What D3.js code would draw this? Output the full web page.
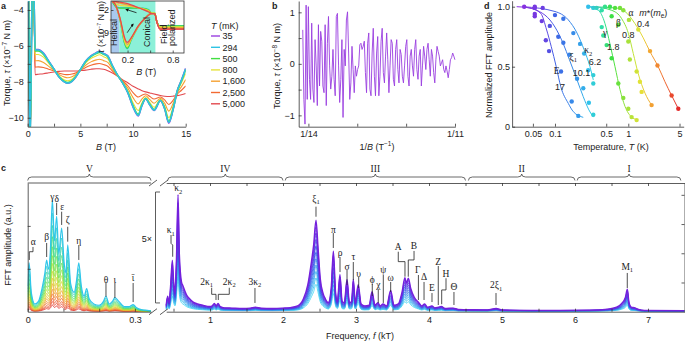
<!DOCTYPE html>
<html>
<head>
<meta charset="utf-8">
<script src="https://cdn.jsdelivr.net/npm/d3@7"></script>
<style>
  body { margin: 0; background: #fff; }
  svg text { font-family: "Liberation Sans", Arial, sans-serif; font-size: 9px; fill: #222; }
  .greek { font-family: "Liberation Serif", "DejaVu Serif", serif; font-size: 9.5px; }
</style>
</head>
<body>
<svg id="fig" width="685" height="341"></svg>
<script>
// ---------- panel a: torque vs field ----------
const tempsMK = [35, 294, 500, 800, 1600, 2500, 5000];
const tempColors = ["#9a3fe0", "#2fc3e3", "#42de42", "#e6e23c", "#f5a133", "#f26a33", "#e2494f"];
const lowFieldB = [0, 0.06, 0.22, 0.42, 0.56];
const lowFieldTorque = [-1.5, -2.2, -11.5, -3.4, -2.3];
const torqueB = [0.7,1,1.5,2,2.5,3,3.5,3.8,4.2,4.6,5,5.5,6,6.5,6.8,7.2,7.6,8,8.5,9,9.5,10,10.5,10.8,11.2,11.6,12,12.6,13,13.4,13.8,14.2,14.6,15];
const torque35 = [-6.2,-6.2,-6.4,-6.85,-7.3,-7.75,-8.02,-8.08,-7.98,-7.7,-7.33,-6.85,-6.55,-6.38,-6.3,-6.42,-6.55,-7.05,-7.6,-8.05,-8.6,-9.4,-9.9,-9.4,-8.95,-9.3,-9.6,-9.05,-9.5,-10.3,-9.55,-8.5,-7.9,-7.25];
const torque294 = [-6.23,-6.23,-6.42,-6.86,-7.3,-7.74,-8.01,-8.07,-7.97,-7.69,-7.33,-6.86,-6.57,-6.4,-6.32,-6.44,-6.57,-7.06,-7.6,-8.05,-8.59,-9.38,-9.87,-9.38,-8.94,-9.29,-9.58,-9.04,-9.49,-10.27,-9.54,-8.51,-7.92,-7.28];
const torque500 = [-6.28,-6.28,-6.47,-6.89,-7.31,-7.73,-7.98,-8.04,-7.95,-7.68,-7.33,-6.88,-6.6,-6.43,-6.36,-6.47,-6.6,-7.08,-7.6,-8.04,-8.57,-9.33,-9.81,-9.35,-8.93,-9.26,-9.55,-9.03,-9.46,-10.21,-9.51,-8.52,-7.95,-7.33];
const torque800 = [-6.48,-6.48,-6.63,-6.98,-7.33,-7.68,-7.9,-7.94,-7.86,-7.64,-7.34,-6.95,-6.7,-6.56,-6.49,-6.6,-6.72,-7.14,-7.62,-8.02,-8.49,-9.17,-9.6,-9.22,-8.87,-9.16,-9.42,-8.99,-9.36,-10.0,-9.4,-8.55,-8.06,-7.53];
const torque1600 = [-6.83,-6.82,-6.92,-7.14,-7.37,-7.6,-7.74,-7.77,-7.72,-7.57,-7.35,-7.08,-6.89,-6.78,-6.74,-6.82,-6.92,-7.25,-7.64,-7.97,-8.35,-8.88,-9.23,-8.99,-8.78,-8.99,-9.19,-8.92,-9.19,-9.63,-9.21,-8.62,-8.27,-7.88];
const torque2500 = [-7.18,-7.17,-7.2,-7.3,-7.4,-7.52,-7.59,-7.6,-7.57,-7.49,-7.37,-7.2,-7.08,-7.0,-6.98,-7.04,-7.13,-7.37,-7.66,-7.93,-8.22,-8.6,-8.85,-8.76,-8.68,-8.82,-8.96,-8.85,-9.01,-9.26,-9.03,-8.69,-8.47,-8.23];
const torque5000 = [-7.6,-7.58,-7.55,-7.5,-7.45,-7.42,-7.4,-7.4,-7.4,-7.4,-7.38,-7.35,-7.3,-7.27,-7.27,-7.3,-7.38,-7.5,-7.68,-7.88,-8.05,-8.25,-8.4,-8.48,-8.56,-8.62,-8.68,-8.76,-8.8,-8.82,-8.8,-8.77,-8.72,-8.65];
const torqueCurves = [torque35, torque294, torque500, torque800, torque1600, torque2500, torque5000];

// inset of panel a (low field)
const insetLowB = [0,0.03,0.1,0.16,0.195,0.25,0.34,0.43,0.52,0.56,0.59,0.63,0.95];
const insetUpB = [0,0.05,0.1,0.2,0.3,0.4,0.48,0.52,0.56,0.59,0.63,0.95];
const insetTempIdx = [1, 2, 3, 4, 6];
const insetLow = [
  [0.5,0,-5.1,-12.3,-14.0,-11.2,-7.2,-4.6,-3.0,-3.0,-5.6,-6.9,-6.9],
  [0.5,0,-5.0,-12.1,-13.8,-11.1,-7.2,-4.6,-3.0,-3.0,-5.6,-7.0,-7.0],
  [0.5,0,-4.9,-11.6,-13.3,-10.9,-7.1,-4.6,-3.0,-3.0,-5.7,-7.3,-7.3],
  [0.5,0,-4.7,-11.0,-12.6,-10.7,-7.1,-4.6,-3.1,-3.1,-5.7,-7.6,-7.6],
  [0.5,0,-4.5,-10.5,-12.0,-10.5,-7.0,-4.6,-3.1,-3.1,-5.8,-7.9,-7.9]
];
const insetUp = [
  [0.5,-1.0,-1.3,-1.3,-1.3,-1.4,-1.9,-3.0,-3.0,-5.6,-6.9,-6.9],
  [0.5,-1.1,-1.4,-1.4,-1.4,-1.5,-2.0,-3.0,-3.0,-5.6,-7.0,-7.0],
  [0.6,-0.2,-0.6,-0.8,-1.1,-1.6,-2.2,-3.0,-3.0,-5.7,-7.3,-7.3],
  [0.7,0.4,0.1,-0.4,-1.0,-1.7,-2.4,-3.1,-3.1,-5.7,-7.6,-7.6],
  [0.7,0.6,0.4,0,-0.9,-1.8,-2.6,-3.1,-3.1,-5.8,-7.9,-7.9]
];

// ---------- panel b: oscillatory torque vs 1/B ----------
const invBStart = 0.07068, invBEnd = 0.0909;
const oscTorque = [0.66,-0.69,-1.17,1.14,-0.69,1.11,-0.30,-0.69,0.79,-0.49,-0.75,0.47,-0.04,-0.81,0.76,-0.43,0.63,0.44,-0.43,-0.56,0.76,-0.81,0.40,0.92,-0.04,-0.49,-0.24,0.28,-0.30,-0.62,0.92,0.98,-0.04,-0.75,-0.30,0.47,-1.04,0.28,-0.04,0.85,1.01,0.21,-0.69,-0.37,0.34,-0.11,-0.56,-0.04,-0.24,-0.11,-0.04,0.37,0.40,0.28,0.34,0.44,-0.17,-0.56,0.40,0.60,-0.49,-0.62,0.21,0.69,-0.24,-0.62,0.21,0.53,-0.62,-0.24,0.44,0.69,-0.17,-0.37,0.15,0.60,0.08,-0.56,-0.04,0.47,0.40,-0.30,-0.43,0.28,0.47,-0.11,-0.37,0.28,0.18,-0.24,-0.37,-0.04,0.34,0.47,-0.24,-0.43,0.15,0.28,-0.04,-0.24,0.28,0.47,-0.11,-0.30,0.15,0.28,-0.43,-0.04,0.34,0.15,-0.11,0.28,0.40,0.08,-0.24,0.28,0.15,-0.17,-0.37,0.08,0.34,0.24,0.15,-0.04,0.02,0.08,-0.11,-0.17,-0.04,-0.14,-0.27,-0.11,0.08,0.12,0.21,0.15,0.08];

// ---------- panel c: FFT spectra ----------
const specFreqLeft = [0,0.004,0.01,0.02,0.03,0.04,0.048,0.053,0.058,0.063,0.069,0.075,0.081,0.087,0.095,0.102,0.107,0.112,0.12,0.13,0.137,0.143,0.15,0.158,0.165,0.172,0.185,0.2,0.212,0.219,0.228,0.237,0.244,0.255,0.27,0.285,0.295,0.305,0.32,0.335,0.345];
const specAmpLeft = [0.2,0.38,0.15,0.06,0.08,0.18,0.3,0.4,0.33,0.45,0.87,0.55,0.74,0.45,0.65,0.38,0.3,0.52,0.22,0.15,0.25,0.38,0.2,0.12,0.18,0.1,0.06,0.05,0.08,0.12,0.06,0.08,0.11,0.08,0.04,0.04,0.055,0.03,0.015,0.01,0.005];
const specScaleLeft = [1,0.88,0.77,0.67,0.58,0.5,0.43,0.36,0.3,0.25,0.2,0.16,0.12,0.09,0.06];
const specFreqRight = [0.40,0.42,0.44,0.46,0.484,0.50,0.52,0.54,0.562,0.58,0.61,0.63,0.65,0.68,0.72,0.77,0.83,0.90,1.00,1.03,1.06,1.085,1.11,1.14,1.20,1.30,1.45,1.55,1.62,1.70,1.85,2.00,2.10,2.20,2.28,2.34,2.39,2.42,2.452,2.48,2.51,2.55,2.58,2.62,2.66,2.69,2.72,2.745,2.78,2.81,2.84,2.877,2.91,2.94,2.963,2.99,3.03,3.07,3.12,3.18,3.22,3.26,3.30,3.33,3.37,3.42,3.475,3.52,3.58,3.63,3.67,3.69,3.717,3.75,3.80,3.86,3.90,3.94,3.98,4.04,4.08,4.13,4.17,4.22,4.33,4.40,4.60,4.80,4.92,5.00,5.40,5.80,6.20,6.45,6.57,6.64,6.69,6.717,6.74,6.77,6.82,6.86,6.95,7.50];
const specAmpRight = [0.05,0.12,0.07,0.20,0.40,0.25,0.15,0.40,0.91,0.45,0.23,0.20,0.17,0.13,0.10,0.075,0.06,0.05,0.04,0.045,0.065,0.045,0.065,0.04,0.03,0.028,0.025,0.027,0.035,0.027,0.025,0.028,0.032,0.045,0.10,0.21,0.39,0.52,0.71,0.50,0.26,0.14,0.10,0.07,0.18,0.47,0.15,0.08,0.29,0.08,0.07,0.25,0.07,0.08,0.25,0.07,0.21,0.06,0.045,0.05,0.155,0.05,0.07,0.045,0.06,0.045,0.165,0.05,0.06,0.15,0.265,0.22,0.26,0.18,0.11,0.07,0.045,0.06,0.035,0.045,0.03,0.035,0.04,0.025,0.028,0.018,0.015,0.014,0.025,0.013,0.010,0.010,0.012,0.020,0.035,0.065,0.11,0.174,0.07,0.035,0.03,0.02,0.01,0.008];
const specScaleRight = [1,0.93,0.86,0.79,0.72,0.65,0.58,0.51,0.44,0.37,0.3];

// peak labels: [text, subscript, f, textAmp, path points [f, amp]...]
const leftLabels = [
  ["α","",0.0157,0.544,[[0.0148,0.503],[0.0148,0.466],[0.0045,0.466],[0.0045,0.402]]],
  ["β","",0.053,0.583,[[0.053,0.534],[0.053,0.425]]],
  ["γ","",0.069,0.894,[]],
  ["δ","",0.081,0.876,[[0.081,0.845],[0.081,0.751]]],
  ["ε","",0.0967,0.816,[[0.095,0.777],[0.095,0.674]]],
  ["ζ","",0.112,0.713,[[0.112,0.66],[0.112,0.544]]],
  ["η","",0.1426,0.549,[[0.143,0.518],[0.143,0.402]]],
  ["θ","",0.219,0.246,[[0.219,0.223],[0.219,0.117]]],
  ["ι","",0.244,0.246,[[0.244,0.223],[0.244,0.106]]],
  ["ῑ","",0.295,0.262,[[0.295,0.223],[0.295,0.075]]]
];
const rightLabels = [
  ["κ","1",0.462,0.635,[[0.466,0.596],[0.466,0.531],[0.489,0.518],[0.489,0.427]]],
  ["κ","2",0.566,0.959,[]],
  ["2κ","1",0.955,0.233,[[1.023,0.186],[1.023,0.135],[1.082,0.135],[1.082,0.091]]],
  ["2κ","2",1.264,0.233,[[1.264,0.186],[1.264,0.135],[1.114,0.135],[1.114,0.091]]],
  ["3κ","2",1.616,0.233,[[1.616,0.184],[1.616,0.068]]],
  ["ξ","1",2.452,0.881,[[2.452,0.816],[2.452,0.738]]],
  ["π","",2.689,0.635,[[2.689,0.611],[2.689,0.495]]],
  ["ρ","",2.781,0.454,[[2.781,0.425],[2.781,0.308]]],
  ["σ","",2.877,0.35,[[2.877,0.324],[2.877,0.207]]],
  ["τ","",2.963,0.423,[[2.963,0.386],[2.963,0.246]]],
  ["υ","",3.037,0.298,[[3.037,0.27],[3.037,0.184]]],
  ["ϕ","",3.223,0.246,[[3.223,0.215],[3.223,0.122]]],
  ["χ","",3.305,0.207,[[3.305,0.176],[3.305,0.068]]],
  ["ψ","",3.374,0.324,[[3.374,0.285],[3.374,0.068]]],
  ["ω","",3.475,0.26,[[3.475,0.231],[3.475,0.153]]],
  ["A","",3.579,0.505,[[3.579,0.466],[3.579,0.389],[3.671,0.389],[3.671,0.272]]],
  ["B","",3.795,0.513,[[3.795,0.472],[3.795,0.402],[3.716,0.402],[3.716,0.272]]],
  ["Γ","",3.845,0.324,[[3.855,0.285],[3.855,0.091]]],
  ["Δ","",3.932,0.272,[[3.932,0.231],[3.932,0.091]]],
  ["E","",4.041,0.182,[[4.041,0.145],[4.041,0.075]]],
  ["Z","",4.127,0.389,[[4.127,0.355],[4.127,0.052]]],
  ["H","",4.233,0.298,[[4.233,0.26],[4.233,0.169],[4.174,0.169],[4.174,0.058]]],
  ["Θ","",4.342,0.194,[[4.342,0.153],[4.342,0.052]]],
  ["2ξ","1",4.918,0.207,[[4.918,0.145],[4.918,0.052]]],
  ["M","1",6.716,0.35,[[6.716,0.301],[6.716,0.184]]]
];
const bandNames = ["V", "IV", "III", "II", "I"];
const bandRanges = [[0, 0.345], [0.42, 2.0], [2.03, 4.5], [4.54, 6.0], [6.03, 7.45]];

// ---------- panel d: temperature dependence ----------
const seriesNames = ["E", "ξ1", "κ2", "γ", "β", "α"];
const seriesMass = ["17", "10.1", "6.2", "1.8", "0.8", "0.4"];
const eDotsT = [0.038,0.053,0.053,0.066,0.075,0.083,0.121,0.169,0.208];
const eDotsR = [1.0,0.99,0.94,0.88,0.72,0.63,0.46,0.21,0.09];
const eLineT = [0.03,0.045,0.064,0.077,0.089,0.104,0.12,0.152,0.178,0.243];
const eLineR = [1.0,0.99,0.944,0.806,0.667,0.5,0.333,0.194,0.125,0.078];
const xi1DotsT = [0.053,0.085,0.111,0.13,0.157,0.2,0.243,0.29,0.333];
const xi1DotsR = [0.92,0.84,0.75,0.7,0.6,0.4,0.32,0.2,0.1];
const xi1LineT = [0.037,0.073,0.1,0.13,0.157,0.2,0.243,0.29,0.333];
const xi1LineR = [1.0,0.93,0.83,0.69,0.56,0.39,0.25,0.14,0.08];
const kappa2DotsT = [0.053,0.068,0.1,0.13,0.178,0.22,0.25,0.284,0.333,0.333];
const kappa2DotsR = [1.0,0.99,0.93,0.9,0.78,0.69,0.61,0.47,0.43,0.36];
const kappa2LineT = [0.037,0.1,0.152,0.2,0.25,0.3,0.333];
const kappa2LineR = [1.0,0.96,0.89,0.78,0.64,0.5,0.39];
const gammaDotsT = [0.284,0.333,0.434,0.456,0.507,0.593,0.731,0.855,1.0,1.11,1.3];
const gammaDotsR = [1.0,0.99,0.83,0.76,0.68,0.57,0.36,0.24,0.15,0.08,0.055];
const gammaLineT = [0.284,0.39,0.481,0.562,0.659,0.77,0.901,1.11,1.3];
const gammaLineR = [1.0,0.97,0.86,0.69,0.5,0.31,0.17,0.08,0.06];
const betaDotsT = [0.37,0.434,0.593,0.731,1.0,1.05,1.3,1.44,1.52,2.08];
const betaDotsR = [0.99,0.97,0.92,0.85,0.71,0.56,0.46,0.375,0.29,0.18];
const betaLineT = [0.333,0.593,0.813,1.0,1.17,1.37,1.69,2.08];
const betaLineR = [1.0,0.97,0.9,0.78,0.61,0.44,0.28,0.18];
const alphaDotsT = [0.481,0.562,0.659,0.77,0.855,1.02,1.37,1.98,2.5,3.9,4.81];
const alphaDotsR = [1.0,1.0,0.99,0.99,0.97,0.89,0.81,0.63,0.51,0.26,0.15];
const alphaLineT = [0.284,0.659,0.901,1.23,1.6,1.98,2.56,3.16,3.9,4.81];
const alphaLineR = [1.0,0.99,0.96,0.86,0.74,0.625,0.5,0.375,0.26,0.15];
// label anchor [T, R] for name and mass
const nameAt = [[0.105,0.467],[0.178,0.583],[0.285,0.639],[0.481,0.778],[0.731,0.862],[1.09,0.945]];
const massAt = [[0.117,0.328],[0.231,0.45],[0.351,0.542],[0.624,0.667],[1.0,0.764],[1.6,0.856]];

// ======================================================================
const svg = d3.select("#fig");
const defs = svg.append("defs");
const AX = "#333";

function styleAxis(g, fs) {
  g.attr("font-family", null).attr("font-size", null);
  g.select(".domain").attr("stroke", AX).attr("stroke-width", 0.8);
  g.selectAll(".tick line").attr("stroke", AX).attr("stroke-width", 0.8);
  g.selectAll(".tick text").attr("font-size", fs || 9).attr("fill", "#222");
}

function panelLetter(x, y, t) {
  svg.append("text").attr("x", x).attr("y", y).attr("font-weight", "bold")
    .attr("font-size", 10.5).text(t);
}

// ---------------- panel a ----------------
const xA = d3.scaleLinear().domain([0, 15]).range([27.7, 185.7]);
const yA = d3.scaleLinear().domain([-10.5, -3.5]).range([126.7, 1]);
defs.append("clipPath").attr("id", "clipA").append("rect")
  .attr("x", 27.7).attr("y", 1).attr("width", 158).attr("height", 125.7);

const gA = svg.append("g");
const lineA = d3.line().x(d => xA(d[0])).y(d => yA(d[1])).curve(d3.curveMonotoneX);
const drawOrder = [0, 6, 5, 4, 3, 2, 1];
drawOrder.forEach(k => {
  const pts = lowFieldB.map((b, i) => [b, lowFieldTorque[i]])
    .concat(torqueB.map((b, i) => [b, torqueCurves[k][i]]));
  gA.append("path").attr("d", lineA(pts)).attr("fill", "none")
    .attr("stroke", tempColors[k]).attr("stroke-width", k < 3 ? 1.6 : 1.1)
    .attr("clip-path", "url(#clipA)");
});

gA.append("g").attr("transform", "translate(0,126.7)")
  .call(d3.axisBottom(xA).tickValues([0,2.5,5,7.5,10,12.5,15]).tickSize(-3).tickSizeOuter(0)
    .tickPadding(4).tickFormat(d => d % 5 === 0 ? d : ""))
  .call(styleAxis);
gA.append("g").attr("transform", "translate(27.7,0)")
  .call(d3.axisLeft(yA).tickValues([-10,-9,-8,-7,-6,-5,-4]).tickSize(-3).tickSizeOuter(0)
    .tickPadding(4).tickFormat(d => d % 2 === 0 ? d3.format("")(d) : ""))
  .call(styleAxis);

svg.append("text").attr("x", 106).attr("y", 149.5).attr("text-anchor", "middle")
  .attr("font-size", 9.5).html('<tspan font-style="italic">B</tspan> (T)');
svg.append("text").attr("transform", "translate(10,63) rotate(-90)").attr("text-anchor", "middle")
  .attr("font-size", 9.5)
  .html('Torque, <tspan font-style="italic">τ</tspan> (×10<tspan dy="-3.5" font-size="6.5">−7</tspan><tspan dy="3.5"> N m)</tspan>');
panelLetter(1, 9, "a");

// legend
const gLeg = svg.append("g");
gLeg.append("text").attr("x", 211).attr("y", 28.5).attr("font-size", 9)
  .html('<tspan font-style="italic">T</tspan> (mK)');
tempsMK.forEach((t, i) => {
  const y = 36 + i * 11.3;
  gLeg.append("line").attr("x1", 211).attr("x2", 220).attr("y1", y).attr("y2", y)
    .attr("stroke", tempColors[i]).attr("stroke-width", 1.4);
  gLeg.append("text").attr("x", 222.5).attr("y", y + 3.2).attr("font-size", 9)
    .text(d3.format(",")(t));
});

// inset
const xI = d3.scaleLinear().domain([-0.02, 0.95]).range([111, 184]);
const yI = d3.scaleLinear().domain([-15.26, 0.78]).range([53, 1]);
const gI = svg.append("g");
defs.append("clipPath").attr("id", "clipI").append("rect")
  .attr("x", 111).attr("y", 1).attr("width", 73).attr("height", 52);
gI.append("rect").attr("x", 111).attr("y", 1).attr("width", 73).attr("height", 52).attr("fill", "#fff");
gI.append("rect").attr("x", xI(-0.02)).attr("y", 1).attr("width", xI(0.09) - xI(-0.02)).attr("height", 52)
  .attr("fill", "#a9c9ee");
gI.append("rect").attr("x", xI(0.09)).attr("y", 1).attr("width", xI(0.57) - xI(0.09)).attr("height", 52)
  .attr("fill", "#8cf0d8");
const lineI = d3.line().x(d => xI(d[0])).y(d => yI(d[1])).curve(d3.curveMonotoneX);
insetTempIdx.forEach((k, j) => {
  [[insetLowB, insetLow[j]], [insetUpB, insetUp[j]]].forEach(([bs, vs]) => {
    gI.append("path").attr("d", lineI(bs.map((b, i) => [b, vs[i]])))
      .attr("fill", "none").attr("stroke", tempColors[k]).attr("stroke-width", 1.3)
      .attr("clip-path", "url(#clipI)");
  });
});
defs.append("marker").attr("id", "arrowHead").attr("viewBox", "0 0 10 10")
  .attr("refX", 8).attr("refY", 5).attr("markerWidth", 4).attr("markerHeight", 4)
  .attr("orient", "auto").append("path").attr("d", "M0,0L10,5L0,10z").attr("fill", "#111");
[[[0.319, -2.83], [0.178, -1.8]], [[0.195, -9.0], [0.274, -6.3]]].forEach(([a, b]) => {
  gI.append("line").attr("x1", xI(a[0])).attr("y1", yI(a[1])).attr("x2", xI(b[0])).attr("y2", yI(b[1]))
    .attr("stroke", "#111").attr("stroke-width", 0.8).attr("marker-end", "url(#arrowHead)");
});
gI.append("rect").attr("x", 111).attr("y", 1).attr("width", 73).attr("height", 52)
  .attr("fill", "none").attr("stroke", AX).attr("stroke-width", 0.8);
gI.append("text").attr("transform", `translate(${xI(0.03) + 2.5},46) rotate(-90)`).attr("font-size", 7.5).text("Helical");
gI.append("text").attr("transform", `translate(${xI(0.46) + 2.5},47) rotate(-90)`).attr("font-size", 7.5).text("Conical");
gI.append("text").attr("transform", `translate(${xI(0.69) + 2.5},44) rotate(-90)`).attr("font-size", 7.5).text("Field");
gI.append("text").attr("transform", `translate(${xI(0.8) + 2.5},46) rotate(-90)`).attr("font-size", 7.5).text("polarized");
gI.append("g").attr("transform", "translate(0,53)")
  .call(d3.axisBottom(xI).tickValues([0.2, 0.5, 0.8]).tickSize(-2.5).tickSizeOuter(0).tickPadding(4)
    .tickFormat(d => d === 0.5 ? "" : d))
  .call(g => styleAxis(g, 8)).select(".domain").remove();
gI.append("g").attr("transform", "translate(111,0)")
  .call(d3.axisLeft(yI).tickValues([-2, -9]).tickSize(-2.5).tickSizeOuter(0).tickPadding(2))
  .call(g => styleAxis(g, 8)).select(".domain").remove();
svg.append("text").attr("x", xI(0.45)).attr("y", 75).attr("text-anchor", "middle").attr("font-size", 8.5)
  .html('<tspan font-style="italic">B</tspan> (T)');
svg.append("text").attr("transform", "translate(103.5,27) rotate(-90)").attr("text-anchor", "middle")
  .attr("font-size", 6.8)
  .html('<tspan font-style="italic">τ</tspan> (×10<tspan dy="-2.5" font-size="5">−7</tspan><tspan dy="2.5"> N m)</tspan>');

// ---------------- panel b ----------------
const xB = d3.scaleLinear().domain([0.07014, 0.09095]).range([298.7, 455.3]);
const yB = d3.scaleLinear().domain([-1.22, 1.22]).range([126.7, 1]);
const nOsc = oscTorque.length;
const oscPts = oscTorque.map((v, i) => [invBStart + (invBEnd - invBStart) * i / (nOsc - 1), v]);
svg.append("path").attr("d", d3.line().x(d => xB(d[0])).y(d => yB(d[1]))(oscPts))
  .attr("fill", "none").attr("stroke", "#9a3ee0").attr("stroke-width", 0.9);
const bTicks = [0, 1, 2, 3].map(i => 1 / 14 + (1 / 11 - 1 / 14) * i / 3);
svg.append("g").attr("transform", "translate(0,126.7)")
  .call(d3.axisBottom(xB).tickValues(bTicks).tickSize(-3).tickSizeOuter(0).tickPadding(4)
    .tickFormat((d, i) => i === 0 ? "1/14" : (i === 3 ? "1/11" : "")))
  .call(styleAxis);
svg.append("g").attr("transform", "translate(298.7,0)")
  .call(d3.axisLeft(yB).tickValues([-1, -0.5, 0, 0.5, 1]).tickSize(-3).tickSizeOuter(0).tickPadding(4)
    .tickFormat(d => Number.isInteger(d) ? d3.format("")(d) : ""))
  .call(styleAxis);
svg.append("text").attr("x", 377).attr("y", 149.5).attr("text-anchor", "middle").attr("font-size", 9.5)
  .html('1/<tspan font-style="italic">B</tspan> (T<tspan dy="-3.5" font-size="6.5">−1</tspan><tspan dy="3.5">)</tspan>');
svg.append("text").attr("transform", "translate(280,66) rotate(-90)").attr("text-anchor", "middle")
  .attr("font-size", 9.5)
  .html('Torque, <tspan font-style="italic">τ</tspan> (×10<tspan dy="-3.5" font-size="6.5">−8</tspan><tspan dy="3.5"> N m)</tspan>');
panelLetter(272, 9, "b");

// ---------------- panel d ----------------
const xD = d3.scaleLog().domain([0.026, 5.7]).range([512.1, 683.7]);
const yD = d3.scaleLinear().domain([0, 1.05]).range([126.7, 0.7]);
const tColor = d3.scaleLog()
  .domain([0.035,0.07,0.1,0.2,0.3,0.45,0.6,1.0,1.5,2.0,3.0,5.0])
  .range(["#8a2fe0","#6a3ee2","#3f62e4","#3595ea","#31c6ea","#2fe0a0","#3fe03f","#a8e23a","#e6e236","#f2a532","#f07030","#e2242a"])
  .clamp(true);
const dSeries = [
  [eDotsT, eDotsR, eLineT, eLineR],
  [xi1DotsT, xi1DotsR, xi1LineT, xi1LineR],
  [kappa2DotsT, kappa2DotsR, kappa2LineT, kappa2LineR],
  [gammaDotsT, gammaDotsR, gammaLineT, gammaLineR],
  [betaDotsT, betaDotsR, betaLineT, betaLineR],
  [alphaDotsT, alphaDotsR, alphaLineT, alphaLineR]
];
const gD = svg.append("g");
const lineD = d3.line().x(d => xD(d[0])).y(d => yD(d[1])).curve(d3.curveMonotoneX);
dSeries.forEach(([dt, dr, lt, lr], s) => {
  const x0 = xD(lt[0]), x1 = xD(lt[lt.length - 1]);
  const grad = defs.append("linearGradient").attr("id", "gd" + s)
    .attr("gradientUnits", "userSpaceOnUse").attr("x1", x0).attr("x2", x1).attr("y1", 0).attr("y2", 0);
  lt.forEach(t => grad.append("stop").attr("offset", (xD(t) - x0) / (x1 - x0)).attr("stop-color", tColor(t)));
  gD.append("path").attr("d", lineD(lt.map((t, i) => [t, lr[i]])))
    .attr("fill", "none").attr("stroke", `url(#gd${s})`).attr("stroke-width", 1);
  gD.selectAll(null).data(dt.map((t, i) => [t, dr[i]])).join("circle")
    .attr("cx", d => xD(d[0])).attr("cy", d => yD(d[1])).attr("r", 2.2)
    .attr("fill", d => tColor(d[0]));
});
seriesNames.forEach((n, s) => {
  const [t, r] = nameAt[s];
  const txt = gD.append("text").attr("class", "greek").attr("x", xD(t)).attr("y", yD(r) + 3)
    .attr("text-anchor", "middle").attr("font-size", 9.5);
  if (n.length > 1) txt.html(`${n[0]}<tspan dy="2.5" font-size="6.5">${n.slice(1)}</tspan>`);
  else txt.text(n);
  const [tm, rm] = massAt[s];
  gD.append("text").attr("x", xD(tm)).attr("y", yD(rm) + 3).attr("text-anchor", "middle")
    .attr("font-size", 9).text(seriesMass[s]);
});
gD.append("text").attr("x", xD(2.19)).attr("y", yD(0.945) + 3).attr("text-anchor", "middle")
  .attr("font-size", 9)
  .html('<tspan font-style="italic">m</tspan>*(<tspan font-style="italic">m</tspan><tspan dy="2" font-size="6.5">e</tspan><tspan dy="-2">)</tspan>');
svg.append("g").attr("transform", "translate(0,126.7)")
  .call(d3.axisBottom(xD).tickValues([0.05, 0.1, 0.5, 1, 5]).tickSize(-3).tickSizeOuter(0).tickPadding(4)
    .tickFormat(d3.format("")))
  .call(styleAxis);
svg.append("g").attr("transform", "translate(512.1,0)")
  .call(d3.axisLeft(yD).tickValues([0, 0.5, 1]).tickSize(-3).tickSizeOuter(0).tickPadding(2)
    .tickFormat(d => d === 0 ? "0" : d3.format(".1f")(d)))
  .call(styleAxis);
svg.append("text").attr("x", 611).attr("y", 149.5).attr("text-anchor", "middle").attr("font-size", 9.5)
  .html('Temperature, <tspan font-style="italic">T</tspan> (K)');
svg.append("text").attr("transform", "translate(491.5,65) rotate(-90)").attr("text-anchor", "middle")
  .attr("font-size", 9.5).text("Normalized FFT amplitude");
panelLetter(484, 9, "d");

// ---------------- panel c ----------------
const cTop = 183, cBot = 311.7;
const xCL = d3.scaleLinear().domain([0, 0.345]).range([27.7, 151]);
const xCR = d3.scaleLinear().domain([0.4, 7.5]).range([166.2, 684.5]);
const yC = d3.scaleLinear().domain([0, 1]).range([cBot, cTop]);
const gC = svg.append("g");
defs.append("clipPath").attr("id", "clipCL").append("rect")
  .attr("x", 27.7).attr("y", cTop).attr("width", 151 - 27.7).attr("height", cBot - cTop);
defs.append("clipPath").attr("id", "clipCR").append("rect")
  .attr("x", 163).attr("y", cTop).attr("width", 684.5 - 163).attr("height", cBot - cTop);

const leftColor = d3.interpolateRgbBasis(["#2fc6ea", "#35dc8a", "#7fe23a", "#e4e030", "#f2a030", "#ee5a2a", "#e0302a"]);
const rightColor = d3.interpolateRgbBasis(["#7420dc", "#4a3ee6", "#3a6ce8", "#35a8ee", "#4fd8f2"]);
const lineCL = d3.line().x(d => xCL(d[0])).y(d => yC(d[1])).curve(d3.curveMonotoneX);
const lineCR = d3.line().x(d => xCR(d[0])).y(d => yC(d[1])).curve(d3.curveMonotoneX);
specScaleLeft.slice().reverse().forEach((f, j) => {
  const i = specScaleLeft.length - 1 - j;
  gC.append("path").attr("d", lineCL(specFreqLeft.map((x, k) => [x, specAmpLeft[k] * f])))
    .attr("fill", "none").attr("stroke", leftColor(i / (specScaleLeft.length - 1)))
    .attr("stroke-width", i === 0 ? 1.2 : 0.8).attr("clip-path", "url(#clipCL)");
});
specScaleRight.slice().reverse().forEach((f, j) => {
  const i = specScaleRight.length - 1 - j;
  gC.append("path").attr("d", lineCR(specFreqRight.map((x, k) => [x, specAmpRight[k] * f])))
    .attr("fill", "none").attr("stroke", rightColor(i / (specScaleRight.length - 1)))
    .attr("stroke-width", i === 0 ? 1.4 : 0.9).attr("clip-path", "url(#clipCR)");
});

// frames and axes
gC.append("g").attr("transform", `translate(0,${cBot})`)
  .call(d3.axisBottom(xCL).tickValues([0, 0.1, 0.2, 0.3]).tickSize(-3).tickSizeOuter(0).tickPadding(5)
    .tickFormat(d => d === 0 ? "0" : (d === 0.3 ? "0.3" : "")))
  .call(styleAxis);
gC.append("g").attr("transform", "translate(27.7,0)")
  .call(d3.axisLeft(yC).tickValues([1 / 3, 2 / 3]).tickSize(-3).tickSizeOuter(0).tickFormat(""))
  .call(styleAxis);
gC.append("line").attr("x1", 27.7).attr("x2", 151).attr("y1", cTop).attr("y2", cTop)
  .attr("stroke", AX).attr("stroke-width", 0.8);
const rTicks = d3.range(1, 15).map(i => i * 0.5);
gC.append("g").attr("transform", `translate(0,${cBot})`)
  .call(d3.axisBottom(xCR).tickValues(rTicks).tickSize(-3).tickSizeOuter(0).tickPadding(5)
    .tickFormat(d => Number.isInteger(d) ? d : ""))
  .call(styleAxis);
gC.append("g").attr("transform", `translate(0,${cTop})`)
  .call(d3.axisTop(xCR).tickValues(rTicks).tickSize(-3).tickSizeOuter(0).tickFormat(""))
  .call(styleAxis);
gC.append("g").attr("transform", "translate(684.5,0)")
  .call(d3.axisRight(yC).tickValues([0.227, 0.454, 0.681, 0.908]).tickSize(-3).tickSizeOuter(0).tickFormat(""))
  .call(styleAxis);
// axis breaks
[cTop, cBot].forEach(y => {
  [153, 164].forEach(x => {
    gC.append("line").attr("x1", x - 4).attr("y1", y + 3).attr("x2", x + 4).attr("y2", y - 3)
      .attr("stroke", AX).attr("stroke-width", 0.8);
  });
});

// 5x bracket
gC.append("path").attr("d", `M160,${yC(0.93)}H155.5V${yC(0.068)}H160`)
  .attr("fill", "none").attr("stroke", AX).attr("stroke-width", 0.8);
gC.append("text").attr("x", 147).attr("y", yC(0.544)).attr("text-anchor", "middle").attr("font-size", 9).text("5×");

// band braces
function brace(x0, x1, y) {
  const m = (x0 + x1) / 2;
  return `M${x0},${y + 3.5}Q${x0},${y} ${x0 + 4},${y}L${m - 4},${y}Q${m},${y} ${m},${y - 3}` +
         `Q${m},${y} ${m + 4},${y}L${x1 - 4},${y}Q${x1},${y} ${x1},${y + 3.5}`;
}
bandNames.forEach((n, i) => {
  const [a, b] = bandRanges[i];
  const sc = i === 0 ? xCL : xCR;
  gC.append("path").attr("d", brace(sc(a), sc(b), 177)).attr("fill", "none")
    .attr("stroke", "#444").attr("stroke-width", 0.8);
  gC.append("text").attr("class", "greek").attr("x", (sc(a) + sc(b)) / 2).attr("y", 171.5)
    .attr("text-anchor", "middle").attr("font-size", 9).text(n);
});

// peak labels
function drawLabels(list, sc) {
  list.forEach(([t, sub, f, a, path]) => {
    const txt = gC.append("text").attr("class", "greek").attr("x", sc(f)).attr("y", yC(a) + 3.2)
      .attr("text-anchor", "middle");
    if (sub) txt.html(`${t}<tspan dy="2.5" font-size="6.5">${sub}</tspan>`);
    else txt.text(t);
    if (path.length) {
      gC.append("path").attr("d", d3.line().x(d => sc(d[0])).y(d => yC(d[1]))(path))
        .attr("fill", "none").attr("stroke", "#222").attr("stroke-width", 0.8);
    }
  });
}
drawLabels(leftLabels, xCL);
drawLabels(rightLabels, xCR);

svg.append("text").attr("x", 360).attr("y", 339).attr("text-anchor", "middle").attr("font-size", 9.5)
  .html('Frequency, <tspan font-style="italic">f</tspan> (kT)');
svg.append("text").attr("transform", "translate(10.5,245) rotate(-90)").attr("text-anchor", "middle")
  .attr("font-size", 9.5).text("FFT amplitude (a.u.)");
panelLetter(1, 171, "c");
</script>
</body>
</html>
